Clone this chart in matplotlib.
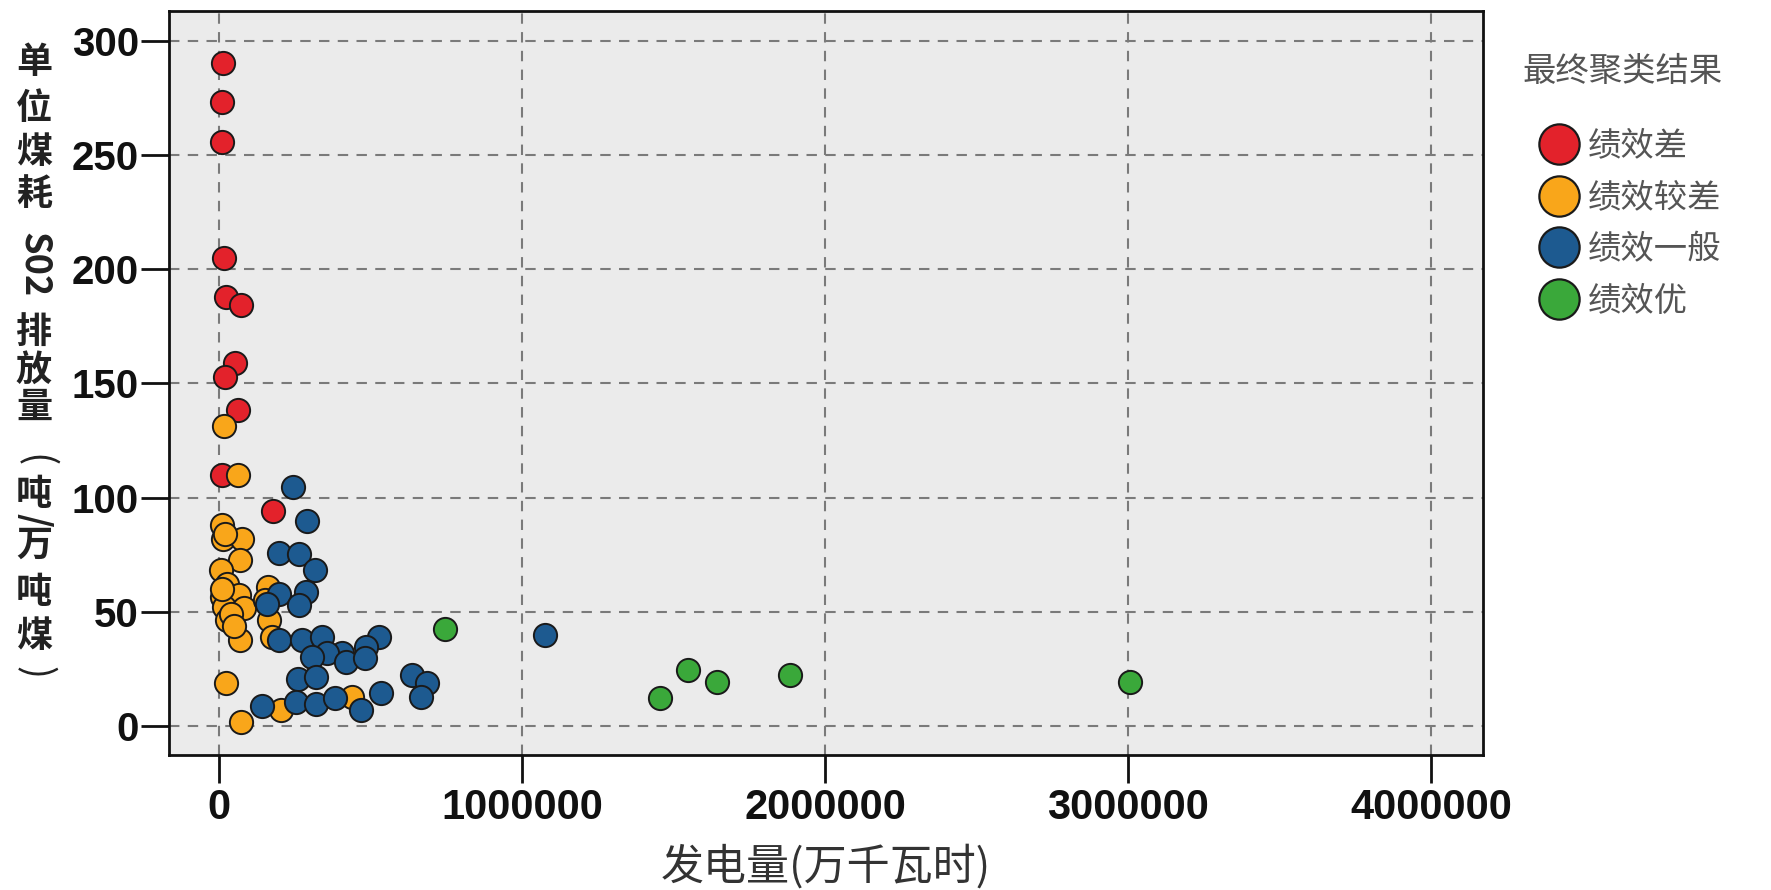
import matplotlib
matplotlib.use("Agg")
import matplotlib.pyplot as plt
from matplotlib.lines import Line2D

# Cluster results: generation (万千瓦时) vs SO2 emission per unit coal
red_x = [14000, 11000, 11000, 15000, 22000, 72000, 52000, 19000, 61000, 11000, 179000]
red_y = [290.0, 272.9, 255.8, 204.8, 188.0, 184.4, 158.8, 153.0, 138.4, 110.0, 94.3]

orange_x = [16000, 64000, 11000, 13000, 77000, 68000, 5000, 27000, 11000, 66000,
            16000, 82000, 27000, 68000, 22000, 71000, 163000, 165000, 176000, 203000,
            440000, 40000, 8000, 50000, 20000, 150000]
orange_y = [131.4, 110.0, 87.9, 81.8, 81.8, 72.6, 68.2, 62.1, 56.6, 57.3,
            52.2, 51.5, 46.4, 37.9, 19.0, 1.9, 60.9, 46.4, 39.1, 7.0,
            12.8, 49.0, 60.0, 44.0, 84.0, 55.0]

blue_x = [245000, 291000, 198000, 264000, 317000, 198000, 288000, 159000, 264000, 198000,
          275000, 341000, 528000, 484000, 407000, 357000, 308000, 418000, 259000, 319000,
          141000, 253000, 319000, 383000, 467000, 533000, 636000, 687000, 665000, 1077000,
          480000]
blue_y = [104.7, 89.8, 75.8, 75.2, 68.5, 58.0, 58.7, 53.6, 52.9, 37.6,
          37.9, 39.1, 38.8, 34.7, 31.8, 31.8, 30.3, 28.1, 20.8, 21.3,
          8.9, 10.6, 9.9, 12.4, 7.0, 14.3, 22.6, 18.7, 12.8, 39.8,
          30.0]

green_x = [747000, 1456000, 1546000, 1644000, 1883000, 3005000]
green_y = [42.7, 12.4, 24.7, 19.2, 22.5, 19.2]

groups = [
    ("绩效差", red_x, red_y, "#e3222b"),
    ("绩效较差", orange_x, orange_y, "#f9a61a"),
    ("绩效一般", blue_x, blue_y, "#1d5a90"),
    ("绩效优", green_x, green_y, "#3aa83a"),
]

x_ticks = [0, 1000000, 2000000, 3000000, 4000000]
y_ticks = [0, 50, 100, 150, 200, 250, 300]

cjk = ["Noto Sans CJK SC", "DejaVu Sans"]

fig = plt.figure(figsize=(17.71, 8.90), dpi=100)
W, H = 1771, 890
ax = fig.add_axes([169.4 / W, 1 - 754.5 / H, (1483 - 169.4) / W, (754.5 - 11.3) / H])
ax.set_facecolor("#ebebeb")

for name, xs, ys, color in groups:
    ax.scatter(xs, ys, s=280, c=color, edgecolors="#1a1a1a", linewidths=1.4,
               zorder=3, label=name)

ax.set_xlim(-164000, 4171000)
ax.set_ylim(-12.4, 312.8)
ax.set_xticks(x_ticks)
ax.set_yticks(y_ticks)
ax.set_xticklabels([str(v) for v in x_ticks])
ax.grid(True, linestyle=(0, (5, 4)), color="#7a7a7a", linewidth=1.5, zorder=1)
ax.set_axisbelow(True)

for spine in ax.spines.values():
    spine.set_linewidth(2.0)
    spine.set_color("#111111")

ax.tick_params(axis="both", direction="out", length=20, width=2.0, color="#111111",
               labelsize=30, pad=4)
ax.tick_params(axis="y", labelsize=29, pad=2)
for lab in ax.get_xticklabels() + ax.get_yticklabels():
    lab.set_fontfamily("Liberation Sans")
    lab.set_fontweight("bold")
    lab.set_color("#111111")

# x axis title
fig.text(731 * 1.1295 / W, 1 - 768 * 1.1295 / H, "发电量(万千瓦时)", family=cjk,
         fontsize=31, color="#333333", ha="center", va="center")

# vertical y axis title: CJK upright, latin runs and brackets turned
ylabel_parts = [
    ("单", 63, 0), ("位", 108, 0), ("煤", 153, 0), ("耗", 195, 0),
    ("S02", 265, -90), ("排", 332, 0), ("放", 370, 0), ("量", 407, 0),
    ("(", 461, -90), ("吨", 495, 0), ("/", 520, -90), ("万", 545, 0),
    ("吨", 593, 0), ("煤", 637, 0), (")", 673, -90),
]
for txt, ypix, rot in ylabel_parts:
    fig.text(34 / W, 1 - ypix / H, txt, family=cjk,
             fontsize=28 if txt in "()" else 26,
             color="#222222", ha="center", va="center", rotation=rot,
             fontweight="normal" if txt in "()" else "bold")

# legend: title placed on its own, entries below
fig.text(1522 / W, 1 - 71 / H, "最终聚类结果", family=cjk, fontsize=24,
         color="#555555", ha="left", va="center")
handles = [Line2D([], [], marker="o", linestyle="none", markersize=29,
                  markerfacecolor=c, markeredgecolor="#1a1a1a", markeredgewidth=1.6)
           for _, _, _, c in groups]
leg = ax.legend(handles, [g[0] for g in groups],
                loc="upper left", bbox_to_anchor=(1521 / W, 1 - 112 / H),
                bbox_transform=fig.transFigure, frameon=False, borderpad=0,
                handletextpad=0.2, handlelength=1.3, labelspacing=0.5,
                prop={"family": cjk, "size": 24})
for t in leg.get_texts():
    t.set_color("#555555")

fig.savefig("out.png", dpi=100)
plt.close(fig)
